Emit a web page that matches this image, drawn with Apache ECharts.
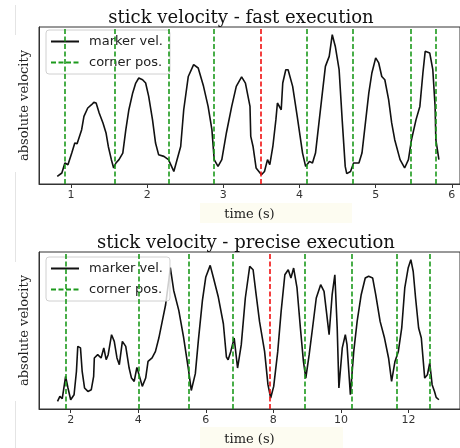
<!DOCTYPE html>
<html>
<head>
<meta charset="utf-8">
<script src="https://cdn.jsdelivr.net/npm/echarts@6/dist/echarts.min.js"></script>
<style>
html,body{margin:0;padding:0;background:#fff;}
#chart{width:460px;height:448px;}
</style>
</head>
<body>
<div id="chart"></div>
<script>
// ---- data: fast execution ----
const fastTime = [0.82,0.88,0.92,0.96,1.01,1.05,1.08,1.14,1.17,1.22,1.27,1.30,1.33,1.37,1.42,1.46,1.49,1.53,1.56,1.59,1.63,1.68,1.72,1.76,1.81,1.85,1.89,1.94,1.98,2.02,2.07,2.11,2.15,2.22,2.28,2.35,2.44,2.48,2.54,2.61,2.67,2.74,2.80,2.85,2.88,2.93,2.98,3.04,3.11,3.17,3.24,3.29,3.35,3.36,3.39,3.43,3.50,3.54,3.58,3.61,3.65,3.69,3.71,3.76,3.78,3.82,3.85,3.91,3.97,4.04,4.08,4.13,4.17,4.21,4.26,4.30,4.34,4.39,4.43,4.45,4.47,4.52,4.56,4.60,4.62,4.67,4.71,4.78,4.82,4.86,4.91,4.95,5.00,5.04,5.08,5.12,5.17,5.21,5.25,5.32,5.38,5.43,5.47,5.53,5.58,5.62,5.65,5.71,5.75,5.78,5.79,5.83];
const fastVel  = [4.8,7.0,13.4,12.3,19.7,26.1,25.7,34.6,43.1,48.4,50.5,52.0,51.6,45.2,38.9,32.5,23.9,15.5,10.2,13.4,15.5,19.7,34.6,47.3,58.0,64.3,67.5,66.4,64.3,55.8,41.0,26.1,18.7,17.6,15.5,8.0,23.9,47.3,68.5,76.0,73.9,62.2,49.4,34.6,15.5,11.2,15.5,32.5,49.4,62.2,68.2,64.3,49.4,30.3,23.9,10.2,5.9,8.0,15.5,12.3,23.9,41.0,51.6,47.3,64.3,72.8,72.8,62.2,43.1,19.7,11.2,14.4,13.4,19.7,41.0,58.0,74.9,81.3,95.1,95.1,87.6,72.8,41.0,11.2,6.6,8.0,13.4,13.4,19.7,36.7,58.0,70.7,80.3,77.1,68.5,66.4,53.7,38.9,28.2,15.5,10.2,15.5,28.2,41.0,49.4,70.7,84.5,83.4,72.8,49.4,28.2,15.5];
const fastCorners = [0.918,1.568,2.283,2.882,4.091,4.698,5.457,5.785];
const fastRed = [3.489];
const fastTicks = [1,2,3,4,5,6];

// ---- data: precise execution ----
const preciseTime = [1.61,1.68,1.75,1.85,1.92,2.00,2.10,2.17,2.21,2.29,2.34,2.41,2.51,2.61,2.68,2.70,2.80,2.90,2.98,3.05,3.11,3.21,3.29,3.37,3.44,3.53,3.63,3.73,3.80,3.88,3.96,4.05,4.12,4.22,4.29,4.41,4.51,4.61,4.71,4.81,4.90,4.95,5.05,5.20,5.34,5.49,5.57,5.69,5.78,5.90,6.00,6.13,6.22,6.37,6.52,6.61,6.66,6.74,6.84,6.94,7.05,7.17,7.30,7.40,7.49,7.59,7.74,7.84,7.92,8.01,8.13,8.23,8.34,8.44,8.52,8.60,8.70,8.80,8.89,8.96,9.06,9.16,9.27,9.40,9.50,9.57,9.65,9.74,9.82,9.89,9.94,10.04,10.13,10.18,10.28,10.38,10.48,10.60,10.72,10.82,10.94,11.03,11.16,11.29,11.41,11.50,11.60,11.70,11.80,11.89,11.99,12.07,12.14,12.21,12.30,12.38,12.48,12.56,12.63,12.70,12.77,12.82,12.90];
const preciseVel  = [4.8,8.0,6.6,20.8,13.4,5.9,9.1,23.9,39.9,38.9,23.9,13.4,11.2,12.3,20.8,32.5,34.6,32.5,38.9,31.4,34.6,47.3,43.1,32.5,28.2,43.1,39.9,26.1,19.7,17.6,26.5,19.7,14.4,19.7,30.3,32.5,36.7,45.2,55.8,66.4,81.3,90.0,75.5,62.8,45.9,24.6,11.8,22.5,43.7,69.2,84.1,91.5,84.1,71.3,54.3,33.1,31.4,36.7,45.2,26.1,41.0,70.7,90.8,88.7,72.8,55.8,36.7,15.5,7.0,14.4,36.7,62.2,85.5,88.7,83.4,89.8,77.1,51.6,30.3,19.7,34.6,51.6,70.7,79.2,74.9,62.2,47.3,72.8,85.5,51.6,13.4,38.9,47.3,41.0,9.1,36.7,55.8,72.8,83.4,84.5,83.4,72.8,55.8,45.2,32.5,17.6,30.3,36.7,51.6,77.1,89.8,95.1,87.6,70.7,51.6,45.2,19.7,21.8,29.3,15.5,11.2,7.4,5.9];
const preciseCorners = [1.853,4.023,5.499,6.809,8.921,10.308,11.639,12.645];
const preciseRed = [7.886];
const preciseTicks = [2,4,6,8,10,12];

const titles = ['stick velocity - fast execution', 'stick velocity - precise execution'];
const yName = 'absolute velocity';
const xName = 'time (s)';
const lineName = 'marker vel.';
const cornerName = 'corner pos.';

function pairs(t, v){ return t.map((x,i)=>[x, v[i]]); }

const GREEN = '#1c9a1c';
const RED = '#f01010';
const SERIF = '"DejaVu Serif", "Liberation Serif", serif';
const SANS = '"DejaVu Sans", sans-serif';

const chart = echarts.init(document.getElementById('chart'), null, {renderer:'canvas'});

function xAxisDef(gi, min, max, ticks){
  return {
    type:'value', gridIndex:gi, min:min, max:max,
    splitLine:{show:false},
    axisLine:{show:true, onZero:false, lineStyle:{color:'#333', width:1}},
    axisTick:{show:true, length:4, customValues:ticks, lineStyle:{color:'#333'}},
    axisLabel:{show:true, customValues:ticks, margin:6, fontSize:11, fontFamily:SANS, color:'#333'},
    name:xName, nameLocation:'middle', nameGap:24,
    nameTextStyle:{fontFamily:SERIF, fontSize:13, color:'#222'}
  };
}
function yAxisDef(gi){
  return {
    type:'value', gridIndex:gi, min:0, max:100,
    splitLine:{show:false},
    axisLine:{show:true, lineStyle:{color:'#333', width:1}},
    axisTick:{show:false}, axisLabel:{show:false},
    name:yName, nameLocation:'middle', nameGap:8, nameRotate:90,
    nameTextStyle:{fontFamily:SERIF, fontSize:13, color:'#222'}
  };
}
function legendDef(top){
  return {
    orient:'vertical', left:46, top:top, padding:[5,7,5,4],
    itemWidth:28, itemHeight:12, itemGap:8,
    itemStyle:{opacity:0},
    backgroundColor:'rgba(255,255,255,0.8)', borderColor:'#d0d0d0', borderWidth:1, borderRadius:3,
    textStyle:{fontFamily:SANS, fontSize:13, color:'#222', padding:[0,0,0,5]},
    data:[lineName, cornerName], selectedMode:false
  };
}
function markLines(corners, red){
  return corners.map(x=>({xAxis:x})).concat(red.map(x=>({xAxis:x, lineStyle:{color:RED, type:[5,2.5], width:1.6}})));
}

chart.setOption({
  animation:false,
  title:[
    {text:titles[0], left:236, textAlign:'center', top:4, textStyle:{fontFamily:SERIF, fontSize:18, fontWeight:'normal', color:'#111'}},
    {text:titles[1], left:241, textAlign:'center', top:229, textStyle:{fontFamily:SERIF, fontSize:18, fontWeight:'normal', color:'#111'}}
  ],
  graphic:[
    {type:'rect', shape:{x:200, y:203, width:152, height:20}, style:{fill:'#fdfcf1'}, z:-10},
    {type:'rect', shape:{x:200, y:427, width:143, height:21}, style:{fill:'#fdfcf1'}, z:-10},
    {type:'line', shape:{x1:15.5, y1:5, x2:15.5, y2:35}, style:{stroke:'#e4e4e4', lineWidth:1}, z:-10},
    {type:'line', shape:{x1:15.5, y1:172, x2:15.5, y2:262}, style:{stroke:'#e4e4e4', lineWidth:1}, z:-10},
    {type:'line', shape:{x1:15.5, y1:401, x2:15.5, y2:448}, style:{stroke:'#e4e4e4', lineWidth:1}, z:-10}
  ],
  legend:[legendDef(30), legendDef(257)],
  grid:[
    {left:39, top:27, width:425, height:157, show:true, borderColor:'#333', borderWidth:1, backgroundColor:'transparent'},
    {left:39, top:252, width:425, height:157, show:true, borderColor:'#333', borderWidth:1, backgroundColor:'transparent'}
  ],
  xAxis:[ xAxisDef(0, 0.58, 6.107, fastTicks), xAxisDef(1, 1.062, 13.525, preciseTicks) ],
  yAxis:[ yAxisDef(0), yAxisDef(1) ],
  series:[
    {name:lineName, type:'line', xAxisIndex:0, yAxisIndex:0, data:pairs(fastTime, fastVel), symbol:'none', showSymbol:false,
     lineStyle:{color:'#111', width:1.6}, itemStyle:{color:'#111'}, z:3},
    {name:cornerName, type:'line', xAxisIndex:0, yAxisIndex:0, data:[], symbol:'none', showSymbol:false,
     lineStyle:{color:GREEN, type:[5,2.5], width:1.6}, itemStyle:{color:GREEN},
     markLine:{silent:true, symbol:['none','none'], label:{show:false}, lineStyle:{color:GREEN, type:[5,2.5], width:1.6}, data:markLines(fastCorners, fastRed)}, z:2},
    {name:lineName, type:'line', xAxisIndex:1, yAxisIndex:1, data:pairs(preciseTime, preciseVel), symbol:'none', showSymbol:false,
     lineStyle:{color:'#111', width:1.6}, itemStyle:{color:'#111'}, z:3},
    {name:cornerName, type:'line', xAxisIndex:1, yAxisIndex:1, data:[], symbol:'none', showSymbol:false,
     lineStyle:{color:GREEN, type:[5,2.5], width:1.6}, itemStyle:{color:GREEN},
     markLine:{silent:true, symbol:['none','none'], label:{show:false}, lineStyle:{color:GREEN, type:[5,2.5], width:1.6}, data:markLines(preciseCorners, preciseRed)}, z:2}
  ]
});
</script>
</body>
</html>
